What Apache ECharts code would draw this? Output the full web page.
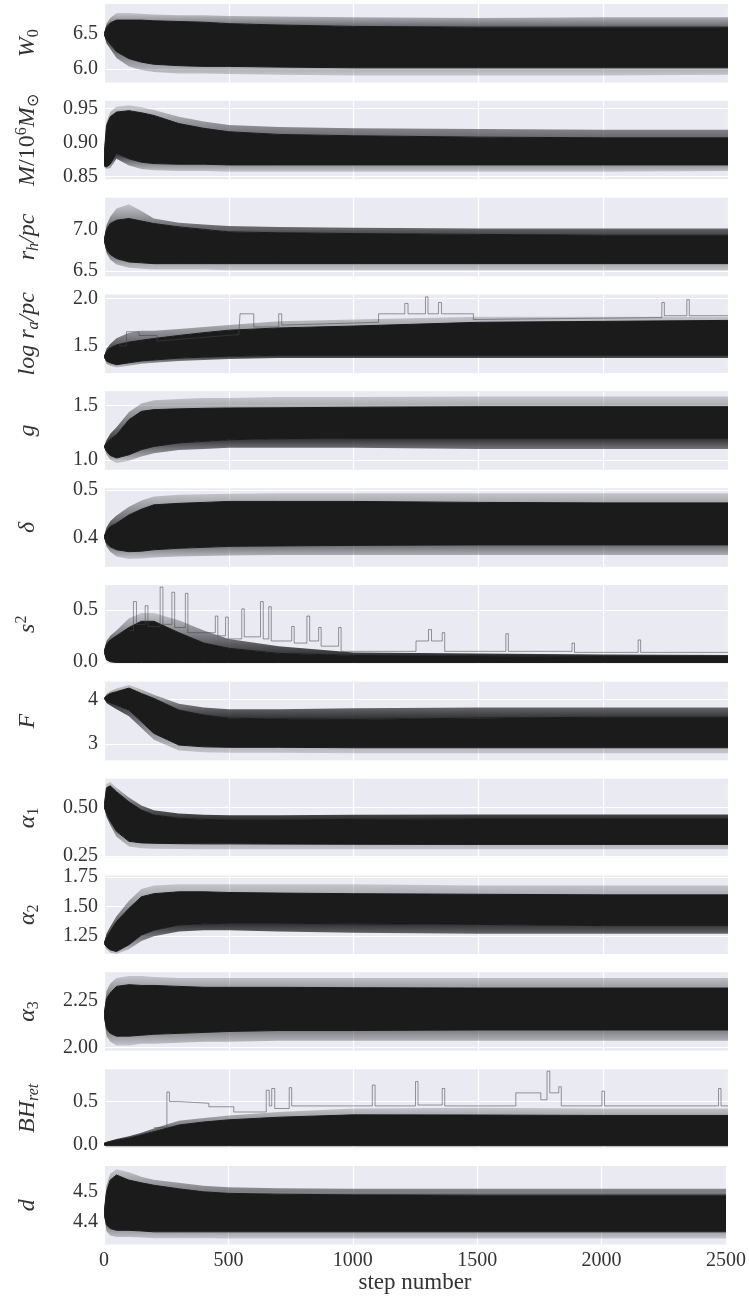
<!DOCTYPE html>
<html><head><meta charset="utf-8">
<script src="https://cdn.jsdelivr.net/npm/echarts@6/dist/echarts.min.js"></script>
<style>html,body{margin:0;padding:0;background:#fff}#c{width:749px;height:1299px}</style>
</head><body><div id="c"></div>
<script>
const steps = [0, 10, 25, 50, 100, 150, 200, 300, 400, 500, 700, 1000, 1500, 2000, 2500];

// W0
const W0_hi  = [6.50, 6.60, 6.66, 6.70, 6.70, 6.70, 6.69, 6.68, 6.67, 6.65, 6.63, 6.61, 6.60, 6.60, 6.60];
const W0_lo  = [6.50, 6.42, 6.36, 6.25, 6.15, 6.10, 6.07, 6.05, 6.04, 6.04, 6.03, 6.02, 6.02, 6.02, 6.02];
const W0_fhi = [6.50, 6.65, 6.73, 6.80, 6.80, 6.79, 6.78, 6.77, 6.77, 6.76, 6.75, 6.74, 6.73, 6.74, 6.74];
const W0_flo = [6.50, 6.37, 6.29, 6.16, 6.04, 5.99, 5.96, 5.94, 5.94, 5.93, 5.92, 5.91, 5.91, 5.91, 5.92];
// M
const M_hi  = [0.880, 0.925, 0.938, 0.945, 0.947, 0.944, 0.940, 0.928, 0.921, 0.916, 0.912, 0.910, 0.908, 0.907, 0.907];
const M_lo  = [0.866, 0.864, 0.868, 0.884, 0.876, 0.871, 0.869, 0.868, 0.868, 0.867, 0.867, 0.867, 0.867, 0.867, 0.867];
const M_fhi = [0.882, 0.930, 0.945, 0.953, 0.955, 0.952, 0.948, 0.938, 0.931, 0.926, 0.923, 0.921, 0.920, 0.919, 0.919];
const M_flo = [0.864, 0.861, 0.862, 0.876, 0.866, 0.861, 0.859, 0.858, 0.858, 0.857, 0.857, 0.857, 0.857, 0.857, 0.858];
// r_h
const RH_hi  = [6.87, 7.00, 7.07, 7.11, 7.13, 7.10, 7.07, 7.03, 7.00, 6.97, 6.96, 6.95, 6.94, 6.93, 6.93];
const RH_lo  = [6.87, 6.76, 6.70, 6.65, 6.61, 6.60, 6.59, 6.59, 6.59, 6.59, 6.59, 6.59, 6.59, 6.59, 6.59];
const RH_fhi = [6.87, 7.05, 7.15, 7.25, 7.30, 7.22, 7.13, 7.08, 7.06, 7.04, 7.03, 7.02, 7.01, 7.01, 7.01];
const RH_flo = [6.87, 6.72, 6.64, 6.58, 6.54, 6.53, 6.52, 6.52, 6.52, 6.51, 6.51, 6.51, 6.51, 6.51, 6.51];
// log r_a
const RA_hi  = [1.384, 1.44, 1.48, 1.51, 1.54, 1.56, 1.578, 1.61, 1.64, 1.666, 1.69, 1.71, 1.75, 1.76, 1.77];
const RA_lo  = [1.384, 1.34, 1.32, 1.30, 1.32, 1.34, 1.35, 1.37, 1.38, 1.39, 1.40, 1.40, 1.40, 1.40, 1.40];
const RA_fhi = [1.384, 1.47, 1.52, 1.58, 1.64, 1.66, 1.66, 1.68, 1.70, 1.72, 1.76, 1.78, 1.81, 1.81, 1.81];
const RA_flo = [1.384, 1.31, 1.29, 1.27, 1.29, 1.31, 1.32, 1.34, 1.35, 1.36, 1.37, 1.37, 1.37, 1.37, 1.37];
// g
const G_hi  = [1.123, 1.15, 1.19, 1.23, 1.37, 1.447, 1.463, 1.47, 1.475, 1.478, 1.48, 1.485, 1.49, 1.49, 1.49];
const G_lo  = [1.123, 1.08, 1.04, 1.016, 1.046, 1.093, 1.123, 1.155, 1.17, 1.185, 1.195, 1.20, 1.20, 1.20, 1.20];
const G_fhi = [1.123, 1.18, 1.24, 1.30, 1.44, 1.52, 1.55, 1.56, 1.57, 1.57, 1.58, 1.58, 1.585, 1.585, 1.585];
const G_flo = [1.123, 1.05, 1.00, 0.97, 0.99, 1.03, 1.06, 1.09, 1.10, 1.11, 1.11, 1.11, 1.10, 1.10, 1.10];
// delta
const DL_hi  = [0.403, 0.415, 0.424, 0.431, 0.448, 0.460, 0.469, 0.472, 0.474, 0.476, 0.476, 0.476, 0.474, 0.473, 0.473];
const DL_lo  = [0.403, 0.390, 0.382, 0.376, 0.372, 0.373, 0.376, 0.379, 0.381, 0.383, 0.384, 0.385, 0.386, 0.386, 0.386];
const DL_fhi = [0.403, 0.422, 0.435, 0.447, 0.465, 0.478, 0.486, 0.490, 0.491, 0.492, 0.493, 0.493, 0.493, 0.493, 0.493];
const DL_flo = [0.403, 0.383, 0.372, 0.362, 0.357, 0.358, 0.360, 0.362, 0.363, 0.364, 0.365, 0.365, 0.365, 0.365, 0.365];
// s^2
const S2_hi  = [0.099, 0.17, 0.21, 0.25, 0.33, 0.39, 0.39, 0.28, 0.18, 0.13, 0.08, 0.06, 0.055, 0.05, 0.05];
const S2_lo  = [0.099, 0.02, 0.0, -0.008, -0.008, -0.008, -0.008, -0.008, -0.008, -0.008, -0.008, -0.008, -0.008, -0.008, -0.008];
const S2_fhi = [0.099, 0.20, 0.25, 0.30, 0.42, 0.47, 0.47, 0.40, 0.30, 0.22, 0.15, 0.09, 0.08, 0.07, 0.065];
const S2_flo = [0.099, 0.01, -0.008, -0.01, -0.01, -0.01, -0.01, -0.01, -0.01, -0.01, -0.01, -0.01, -0.01, -0.01, -0.01];
// F
const F_hi  = [4.02, 4.08, 4.13, 4.17, 4.25, 4.13, 4.02, 3.76, 3.65, 3.58, 3.56, 3.55, 3.58, 3.60, 3.60];
const F_lo  = [4.02, 3.96, 3.92, 3.87, 3.76, 3.50, 3.24, 2.98, 2.94, 2.93, 2.93, 2.92, 2.92, 2.92, 2.92];
const F_fhi = [4.02, 4.12, 4.18, 4.24, 4.32, 4.22, 4.10, 3.90, 3.82, 3.78, 3.78, 3.80, 3.82, 3.82, 3.82];
const F_flo = [4.02, 3.92, 3.86, 3.78, 3.62, 3.36, 3.10, 2.86, 2.82, 2.81, 2.81, 2.80, 2.80, 2.80, 2.80];
// alpha_1
const A1_hi  = [0.503, 0.60, 0.61, 0.58, 0.528, 0.486, 0.461, 0.444, 0.438, 0.436, 0.436, 0.438, 0.440, 0.440, 0.440];
const A1_lo  = [0.503, 0.47, 0.43, 0.377, 0.326, 0.318, 0.316, 0.314, 0.313, 0.313, 0.312, 0.311, 0.310, 0.310, 0.310];
const A1_fhi = [0.503, 0.62, 0.63, 0.60, 0.55, 0.51, 0.485, 0.468, 0.462, 0.46, 0.46, 0.462, 0.463, 0.463, 0.463];
const A1_flo = [0.503, 0.45, 0.41, 0.35, 0.30, 0.29, 0.288, 0.287, 0.286, 0.286, 0.285, 0.285, 0.285, 0.285, 0.285];
// alpha_2
const A2_hi  = [1.19, 1.24, 1.29, 1.374, 1.486, 1.584, 1.61, 1.626, 1.626, 1.62, 1.615, 1.61, 1.605, 1.60, 1.60];
const A2_lo  = [1.19, 1.16, 1.135, 1.12, 1.178, 1.26, 1.30, 1.346, 1.355, 1.36, 1.36, 1.355, 1.35, 1.34, 1.34];
const A2_fhi = [1.19, 1.27, 1.33, 1.42, 1.55, 1.65, 1.68, 1.69, 1.69, 1.69, 1.69, 1.69, 1.68, 1.68, 1.68];
const A2_flo = [1.19, 1.14, 1.11, 1.10, 1.14, 1.21, 1.25, 1.29, 1.30, 1.30, 1.29, 1.28, 1.27, 1.27, 1.27];
// alpha_3
const A3_hi  = [2.173, 2.26, 2.29, 2.325, 2.334, 2.33, 2.33, 2.325, 2.32, 2.32, 2.32, 2.318, 2.316, 2.316, 2.316];
const A3_lo  = [2.173, 2.10, 2.075, 2.06, 2.06, 2.065, 2.07, 2.075, 2.08, 2.085, 2.09, 2.09, 2.093, 2.093, 2.093];
const A3_fhi = [2.173, 2.30, 2.34, 2.37, 2.38, 2.38, 2.375, 2.37, 2.37, 2.37, 2.37, 2.37, 2.37, 2.37, 2.37];
const A3_flo = [2.173, 2.06, 2.03, 2.01, 2.01, 2.02, 2.02, 2.025, 2.03, 2.03, 2.035, 2.035, 2.035, 2.035, 2.035];
// BH_ret
const BH_hi  = [0.02, 0.03, 0.04, 0.055, 0.078, 0.115, 0.154, 0.23, 0.265, 0.29, 0.32, 0.347, 0.345, 0.34, 0.34];
const BH_lo  = [0.0, -0.008, -0.008, -0.008, -0.008, -0.008, -0.008, -0.008, -0.008, -0.008, -0.008, -0.008, -0.008, -0.008, -0.008];
const BH_fhi = [0.02, 0.035, 0.05, 0.07, 0.10, 0.14, 0.19, 0.28, 0.31, 0.34, 0.38, 0.42, 0.43, 0.42, 0.42];
const BH_flo = [0.0, -0.01, -0.01, -0.01, -0.01, -0.01, -0.01, -0.01, -0.01, -0.01, -0.01, -0.01, -0.01, -0.01, -0.01];
// d
const D_hi  = [4.428, 4.50, 4.539, 4.556, 4.539, 4.53, 4.522, 4.51, 4.50, 4.495, 4.492, 4.49, 4.489, 4.489, 4.489];
const D_lo  = [4.428, 4.39, 4.378, 4.372, 4.372, 4.37, 4.367, 4.367, 4.367, 4.367, 4.367, 4.367, 4.367, 4.367, 4.367];
const D_fhi = [4.428, 4.52, 4.56, 4.575, 4.565, 4.55, 4.54, 4.53, 4.52, 4.515, 4.512, 4.51, 4.51, 4.51, 4.51];
const D_flo = [4.428, 4.37, 4.355, 4.35, 4.35, 4.348, 4.346, 4.346, 4.346, 4.345, 4.345, 4.345, 4.345, 4.345, 4.345];

// a few stray walkers: [step, value]
const S2_out = [[100,0.30],[118,0.30],[118,0.58],[130,0.58],[130,0.36],[165,0.36],[165,0.54],[176,0.54],[176,0.34],[225,0.34],[225,0.72],[236,0.72],[236,0.36],[272,0.36],[272,0.67],[283,0.67],[283,0.33],[326,0.33],[326,0.66],[336,0.66],[336,0.28],[446,0.28],[446,0.44],[456,0.44],[456,0.25],[487,0.25],[487,0.43],[498,0.43],[498,0.22],[552,0.22],[552,0.51],[562,0.51],[562,0.24],[627,0.24],[627,0.58],[638,0.58],[638,0.22],[660,0.22],[660,0.53],[670,0.53],[670,0.2],[752,0.2],[752,0.34],[762,0.34],[762,0.18],[813,0.18],[813,0.44],[824,0.44],[824,0.2],[860,0.2],[860,0.33],[870,0.33],[870,0.15],[940,0.15],[940,0.33],[950,0.33],[950,0.1],[1250,0.1],[1250,0.2],[1300,0.2],[1300,0.31],[1312,0.31],[1312,0.2],[1355,0.2],[1355,0.28],[1365,0.28],[1365,0.1],[1610,0.1],[1610,0.27],[1620,0.27],[1620,0.1],[1875,0.1],[1875,0.18],[1885,0.18],[1885,0.09],[2140,0.09],[2140,0.21],[2150,0.21],[2150,0.09],[2500,0.09]];
const BH_out = [[200,0.2],[252,0.2],[252,0.61],[262,0.61],[262,0.5],[300,0.5],[300,0.48],[420,0.48],[420,0.44],[520,0.44],[520,0.38],[650,0.38],[650,0.63],[662,0.63],[662,0.45],[672,0.45],[672,0.65],[684,0.65],[684,0.42],[742,0.42],[742,0.66],[752,0.66],[752,0.45],[1075,0.45],[1075,0.69],[1086,0.69],[1086,0.45],[1248,0.45],[1248,0.73],[1258,0.73],[1258,0.46],[1355,0.46],[1355,0.65],[1365,0.65],[1365,0.45],[1650,0.45],[1650,0.6],[1750,0.6],[1750,0.52],[1775,0.52],[1775,0.85],[1786,0.85],[1786,0.6],[1822,0.6],[1822,0.67],[1832,0.67],[1832,0.45],[1995,0.45],[1995,0.62],[2005,0.62],[2005,0.45],[2462,0.45],[2462,0.65],[2472,0.65],[2472,0.45],[2500,0.45]];
const RA_out = [[60,1.5],[90,1.5],[90,1.65],[140,1.65],[140,1.61],[212,1.61],[212,1.55],[540,1.62],[545,1.84],[600,1.84],[600,1.70],[700,1.70],[700,1.84],[712,1.84],[712,1.72],[1100,1.75],[1100,1.84],[1205,1.84],[1205,1.95],[1218,1.95],[1218,1.84],[1288,1.84],[1288,2.02],[1298,2.02],[1298,1.84],[1340,1.84],[1340,1.96],[1352,1.96],[1352,1.84],[1480,1.84],[1480,1.78],[2235,1.80],[2235,1.96],[2245,1.96],[2245,1.82],[2335,1.82],[2335,1.99],[2345,1.99],[2345,1.82],[2500,1.82]];

// axis tick labels
const xTicks = [0, 500, 1000, 1500, 2000, 2500];
const yLabels = [
  '{i|W}{sn|0}',
  '{i|M}{n|/10}{sup|6}{i|M}{sn|⊙}',
  '{i|r}{si|h}{i|/pc}',
  '{i|log r}{si|a}{i|/pc}',
  '{i|g}',
  '{i|δ}',
  '{i|s}{sup|2}',
  '{i|F}',
  '{i|α}{sn|1}',
  '{i|α}{sn|2}',
  '{i|α}{sn|3}',
  '{i|BH}{si|ret}',
  '{i|d}'
];
const yTicks = [[6.0,6.5],[0.85,0.90,0.95],[6.5,7.0],[1.5,2.0],[1.0,1.5],[0.4,0.5],[0.0,0.5],[3,4],[0.25,0.50],[1.25,1.50,1.75],[2.00,2.25],[0.0,0.5],[4.4,4.5]];
const yDec = [1,2,1,1,1,1,1,0,2,2,2,1,1];
const yMin = [5.81, 0.8457, 6.44, 1.212, 0.907, 0.341, -0.017, 2.64, 0.245, 1.10, 1.982, -0.03, 4.325];
const yMax = [6.93, 0.9616, 7.38, 2.045, 1.632, 0.5035, 0.74, 4.39, 0.647, 1.764, 2.40, 0.873, 4.586];

const bands = [
  [W0_hi, W0_lo, W0_fhi, W0_flo, null],
  [M_hi, M_lo, M_fhi, M_flo, null],
  [RH_hi, RH_lo, RH_fhi, RH_flo, null],
  [RA_hi, RA_lo, RA_fhi, RA_flo, RA_out],
  [G_hi, G_lo, G_fhi, G_flo, null],
  [DL_hi, DL_lo, DL_fhi, DL_flo, null],
  [S2_hi, S2_lo, S2_fhi, S2_flo, S2_out],
  [F_hi, F_lo, F_fhi, F_flo, null],
  [A1_hi, A1_lo, A1_fhi, A1_flo, null],
  [A2_hi, A2_lo, A2_fhi, A2_flo, null],
  [A3_hi, A3_lo, A3_fhi, A3_flo, null],
  [BH_hi, BH_lo, BH_fhi, BH_flo, BH_out],
  [D_hi, D_lo, D_fhi, D_flo, null]
];

// band polygon (between two envelopes) drawn through the axis scales
function bandSeries(i, top, bot, fill, stroke) {
  return {
    type: 'custom', xAxisIndex: i, yAxisIndex: i, silent: true, animation: false, clip: true,
    data: [[steps[0], bot[0]]],
    encode: {x: 0, y: 1},
    renderItem: function (params, api) {
      const pts = [];
      for (let k = 0; k < steps.length; k++) pts.push(api.coord([steps[k], top[k]]));
      for (let k = steps.length - 1; k >= 0; k--) pts.push(api.coord([steps[k], bot[k]]));
      return {type: 'polygon', shape: {points: pts},
        style: {fill: fill, stroke: stroke, lineWidth: stroke ? 1 : 0}};
    }
  };
}
function grad(lightOnTop) {
  const light = 'rgba(60,60,66,0.22)', dark = 'rgba(28,28,30,0.92)';
  return new echarts.graphic.LinearGradient(0, 0, 0, 1, lightOnTop
    ? [{offset: 0, color: light}, {offset: 0.55, color: 'rgba(40,40,44,0.6)'}, {offset: 1, color: dark}]
    : [{offset: 0, color: dark}, {offset: 0.45, color: 'rgba(40,40,44,0.6)'}, {offset: 1, color: light}]);
}

const FONT = 'Liberation Serif';
const TXT = '#333333';
const grids = [], xAxes = [], yAxes = [], series = [];
const N = bands.length;
for (let i = 0; i < N; i++) {
  grids.push({left: 104, width: 624, top: 4 + i * 96.83, height: 78.5,
    show: true, backgroundColor: '#EAEAF2', borderWidth: 0});
  const last = i === N - 1;
  xAxes.push({gridIndex: i, type: 'value', min: xTicks[0], max: xTicks[xTicks.length - 1], interval: 500,
    axisLine: {show: false}, axisTick: {show: false},
    axisLabel: {show: last, formatter: v => String(v), fontFamily: FONT, fontSize: 20, color: TXT, margin: 6},
    splitLine: {show: true, lineStyle: {color: '#ffffff', width: 1.2}},
    name: last ? 'step number' : '', nameLocation: 'middle', nameGap: 26,
    nameTextStyle: {fontFamily: FONT, fontSize: 23, color: TXT}});
  const dec = yDec[i];
  yAxes.push({gridIndex: i, type: 'value', min: yMin[i], max: yMax[i],
    axisLine: {show: false},
    axisTick: {show: false, customValues: yTicks[i]},
    axisLabel: {customValues: yTicks[i], formatter: v => Number(v).toFixed(dec),
      fontFamily: FONT, fontSize: 20, color: TXT, margin: 6},
    splitLine: {show: true, lineStyle: {color: '#ffffff', width: 1.2}},
    name: yLabels[i], nameLocation: 'middle', nameRotate: 90, nameGap: 62,
    nameTextStyle: {rich: {
      i: {fontFamily: FONT, fontStyle: 'italic', fontSize: 24, color: TXT, lineHeight: 28},
      n: {fontFamily: FONT, fontSize: 24, color: TXT, lineHeight: 28},
      si: {fontFamily: FONT, fontStyle: 'italic', fontSize: 16, color: TXT, lineHeight: 15, verticalAlign: 'bottom'},
      sn: {fontFamily: FONT, fontSize: 16, color: TXT, lineHeight: 15, verticalAlign: 'bottom'},
      sup: {fontFamily: FONT, fontSize: 16, color: TXT, lineHeight: 15, verticalAlign: 'top'}
    }}});
  const [hi, lo, fhi, flo, out] = bands[i];
  series.push(bandSeries(i, fhi, hi, grad(true), null));
  series.push(bandSeries(i, lo, flo, grad(false), null));
  if (out) {
    series.push({type: 'line', xAxisIndex: i, yAxisIndex: i, data: out, showSymbol: false, symbol: 'none',
      silent: true, animation: false, lineStyle: {width: 1, color: 'rgba(70,70,74,0.55)'}});
  }
  series.push(bandSeries(i, hi, lo, '#1b1b1b', '#1b1b1b'));
}

const chart = echarts.init(document.getElementById('c'), null, {renderer: 'canvas'});
chart.setOption({backgroundColor: '#ffffff', animation: false,
  grid: grids, xAxis: xAxes, yAxis: yAxes, series: series});
</script></body></html>
